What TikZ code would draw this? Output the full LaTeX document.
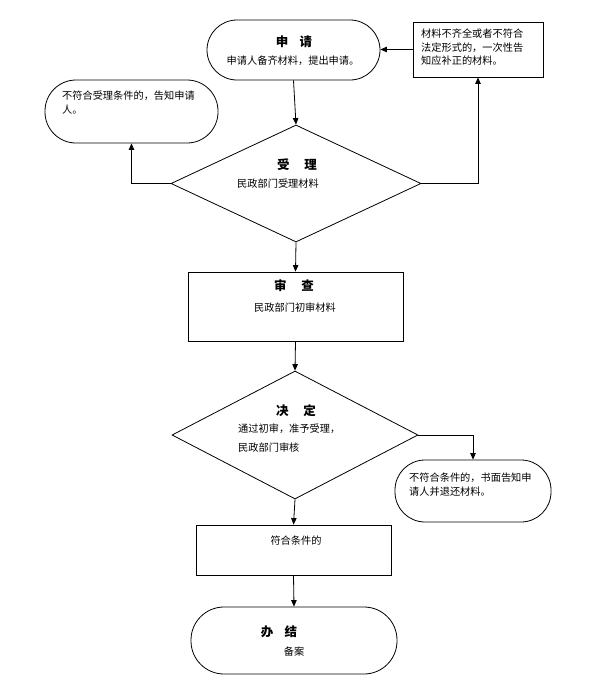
\documentclass[tikz,border=0pt]{standalone}
\usepackage{fontspec}
\newfontfamily\cjk{Noto Sans CJK SC}
\usetikzlibrary{shapes.geometric,arrows.meta}
\tikzset{
  shp/.style={draw=black, line width=0.8pt, inner sep=0pt},
  term/.style={shp, rectangle, rounded corners=30pt},
  boxx/.style={shp, rectangle},
  dia/.style={shp, diamond, aspect=2},
  ttl/.style={font=\cjk\bfseries\fontsize{12.5}{14}\selectfont, inner sep=0pt},
  txt/.style={font=\cjk\fontsize{10.2}{13.5}\selectfont, inner sep=0pt},
  arr/.style={line width=0.8pt, -{Triangle[length=6.5pt,width=5.5pt]}},
  ln/.style={line width=0.8pt}
}
\begin{document}
\begin{tikzpicture}[x=1pt,y=-1pt]
\useasboundingbox (0,0) rectangle (594,686);
% shapes
\node[term, minimum width=173pt, minimum height=60pt] (apply) at (293.5,50) {};
\node[boxx, minimum width=130pt, minimum height=55pt] (fix) at (478,49.5) {};
\node[term, minimum width=173pt, minimum height=63pt, rounded corners=31pt] (rej1) at (131.5,111.5) {};
\node[dia, minimum width=250pt, minimum height=117pt] (accept) at (296,183.5) {};
\node[boxx, minimum width=215pt, minimum height=69pt] (review) at (295.5,306.5) {};
\node[dia, minimum width=246pt, minimum height=128pt] (decide) at (295,435) {};
\node[term, minimum width=156pt, minimum height=62pt] (rej2) at (473,491) {};
\node[boxx, minimum width=195pt, minimum height=50pt] (ok) at (293.5,550) {};
\node[term, minimum width=206pt, minimum height=67pt, rounded corners=33pt] (done) at (294,640.5) {};
% texts
\node[ttl] (applyT) at (294,42) {申\hspace{0.9em}请};
\node[txt] (applyS) at (293,61) {申请人备齐材料，提出申请。};
\node[txt, anchor=north west, align=left] (fixT) at (421,29) {材料不齐全或者不符合\\法定形式的，一次性告\\知应补正的材料。};
\node[txt, anchor=north west, align=left] (rej1T) at (62,91) {不符合受理条件的，告知申请\\人。};
\node[ttl] (acceptT) at (297,165) {受\hspace{1.2em}理};
\node[txt, anchor=west] (acceptS) at (237,184) {民政部门受理材料};
\node[ttl] (reviewT) at (294,286) {审\hspace{1.2em}查};
\node[txt] (reviewS) at (295,308) {民政部门初审材料};
\node[ttl] (decideT) at (296,411) {决\hspace{1.2em}定};
\node[txt, anchor=north west, align=left] (decideS) at (238,424) {通过初审，准予受理，\\[5pt]民政部门审核};
\node[txt, anchor=north west, align=left] (rej2T) at (409,473) {不符合条件的，书面告知申\\请人并退还材料。};
\node[txt] (okT) at (296,541) {符合条件的};
\node[ttl] (doneT) at (279,632) {办\hspace{0.9em}结};
\node[txt] (doneS) at (294,652) {备案};
% connectors
\draw[arr] (apply.south) -- (accept.north);
\draw[arr] (accept.west) -| (rej1.south);
\draw[arr] (accept.east) -| (fix.south);
\draw[arr] (fix.west) -- (fix.west -| apply.east);
\draw[arr] (accept.south) -- (review.north);
\draw[arr] (review.south) -- (decide.north);
\draw[arr] (decide.east) -| (rej2.north);
\draw[arr] (decide.south) -- (ok.north);
\draw[arr] (ok.south) -- (done.north);
\end{tikzpicture}
\end{document}
